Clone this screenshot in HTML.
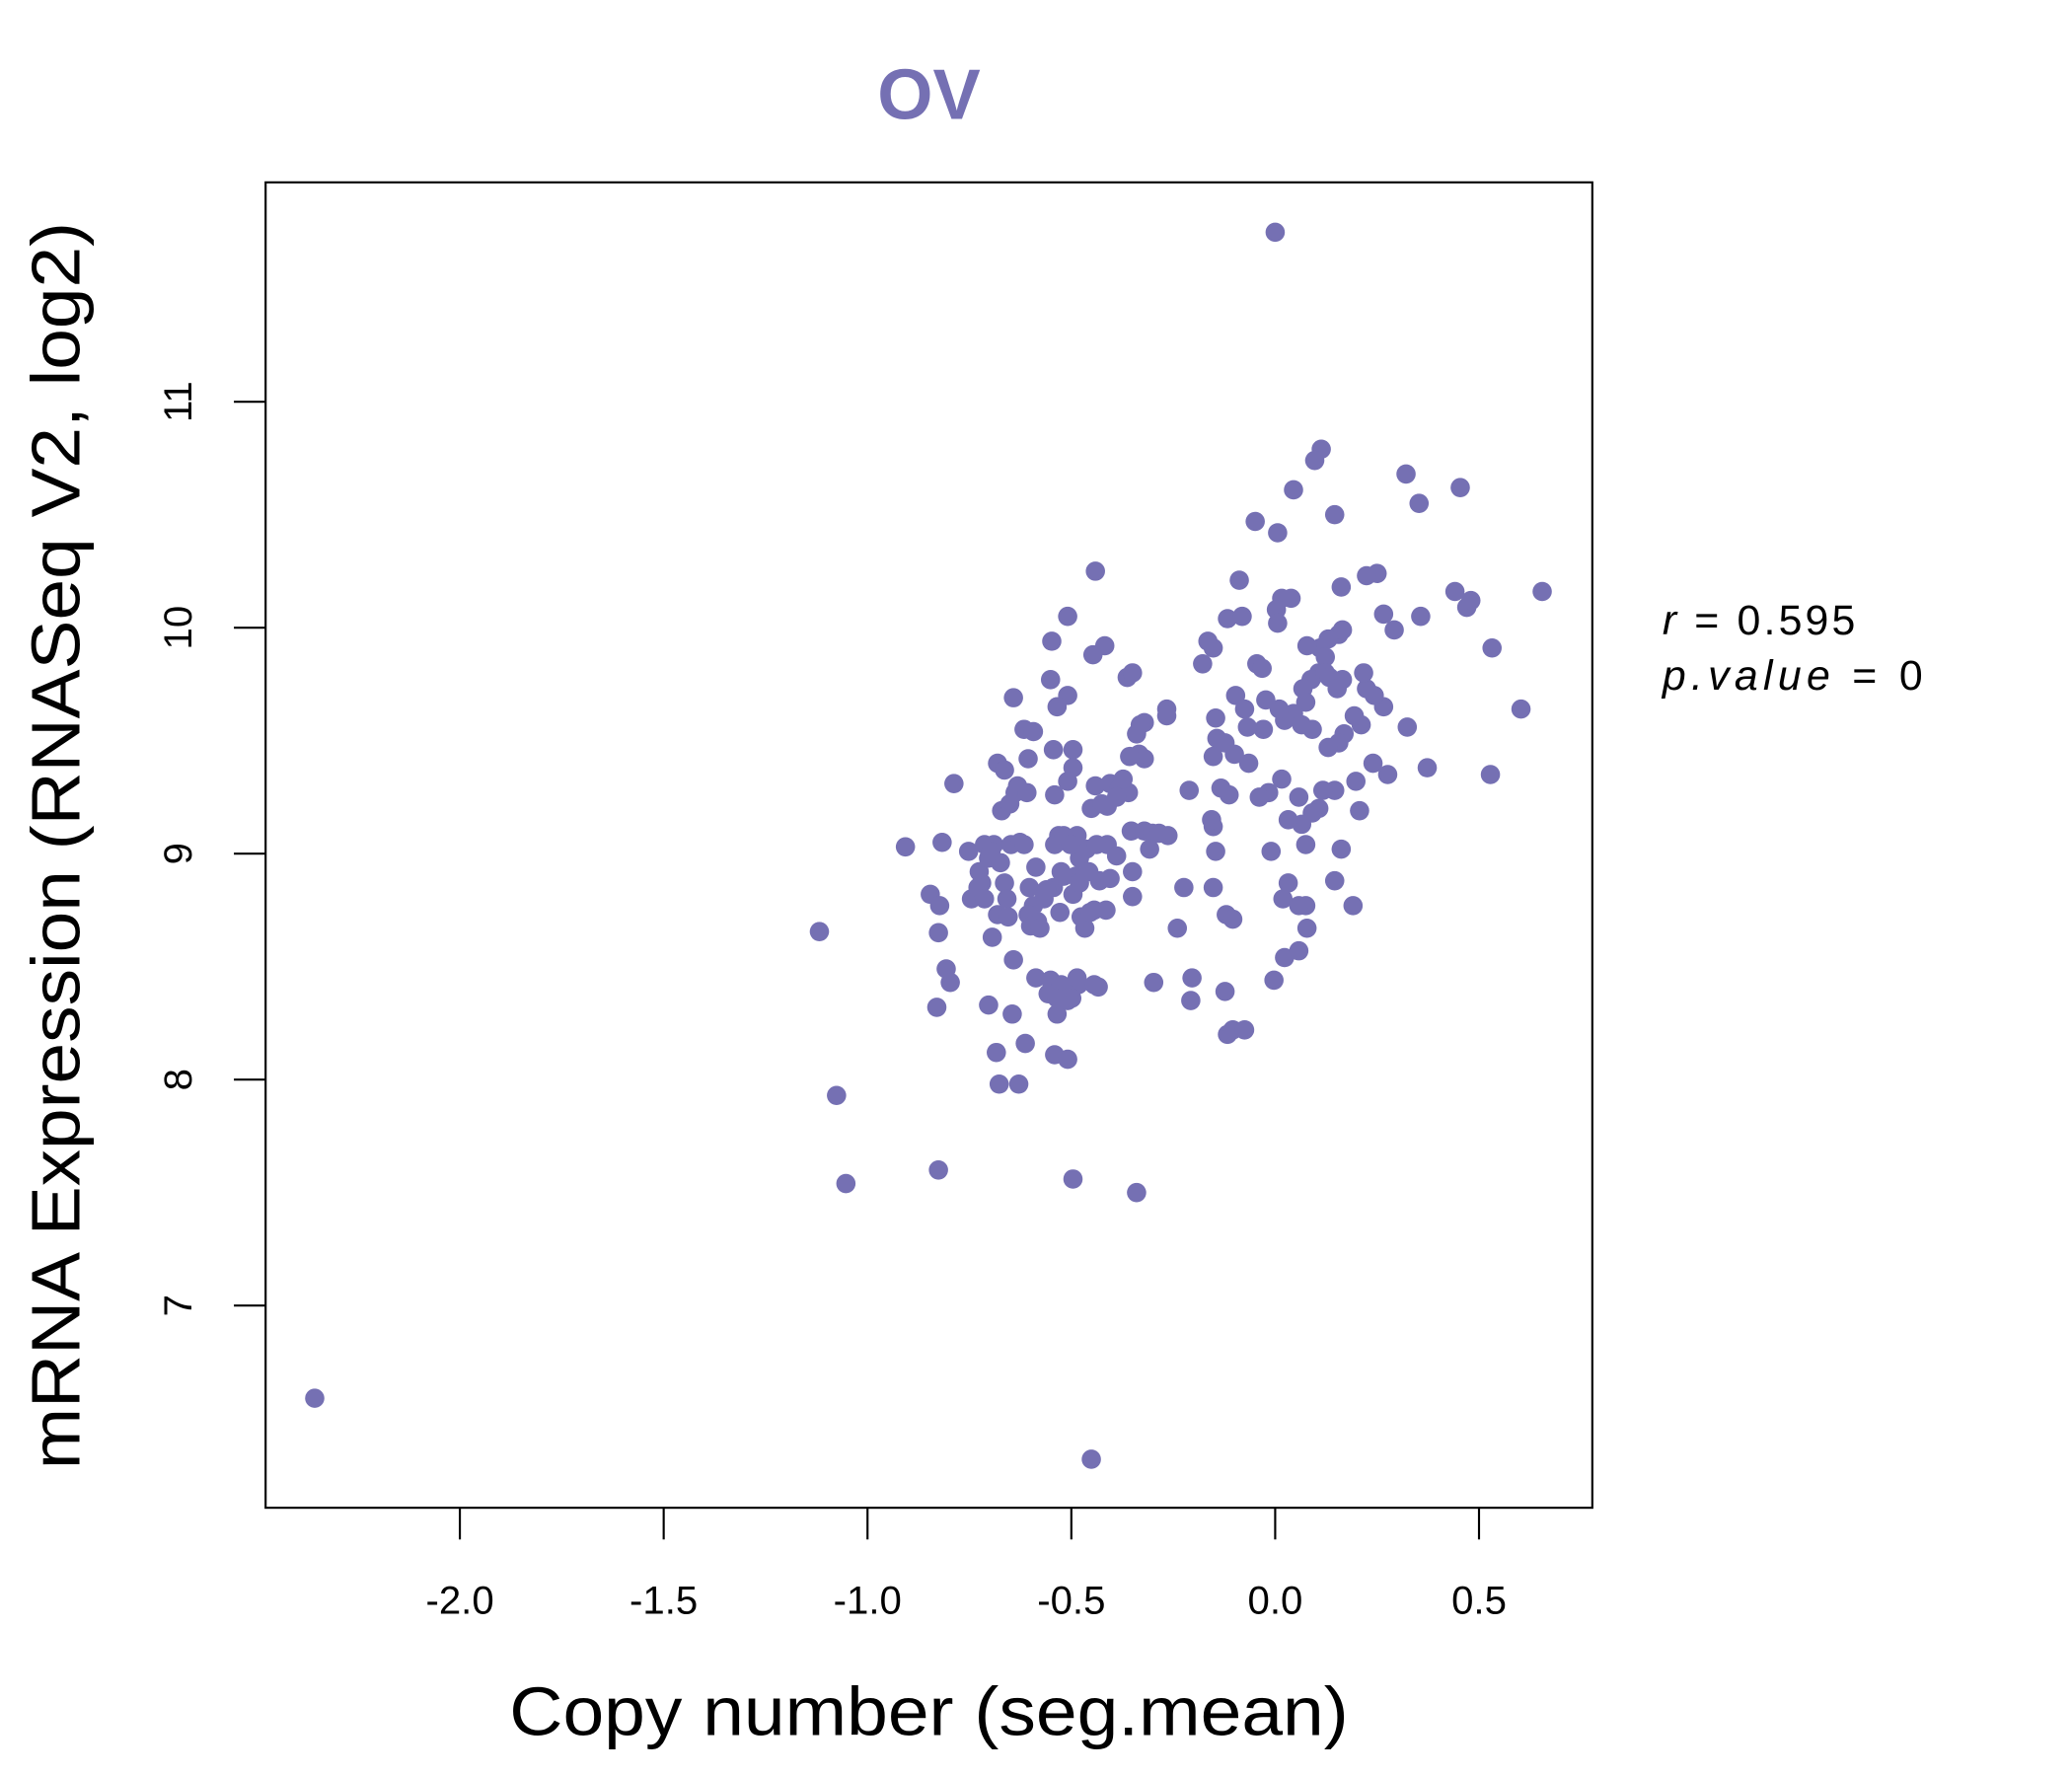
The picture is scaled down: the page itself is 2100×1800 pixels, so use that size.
<!DOCTYPE html>
<html><head><meta charset="utf-8"><style>
html,body{margin:0;padding:0;background:#fff;}
svg{display:block;}
text{font-family:"Liberation Sans",sans-serif;}
</style></head><body>
<svg id="chart" xmlns="http://www.w3.org/2000/svg" width="2100" height="1800" viewBox="0 0 1568 1344">
<rect x="0" y="0" width="1568" height="1344" fill="#fff"/>
<text x="703" y="90" text-anchor="middle" font-size="54" font-weight="bold" fill="#7570B3">OV</text>
<rect x="201" y="138" width="1004" height="1003" fill="none" stroke="#000" stroke-width="1.6"/>
<g id="xaxis"></g>
<g id="yaxis"></g>
<g id="points"></g>
<text x="703" y="1313" text-anchor="middle" font-size="52" textLength="635" lengthAdjust="spacingAndGlyphs">Copy number (seg.mean)</text>
<text transform="translate(60,640) rotate(-90)" text-anchor="middle" font-size="52" textLength="944" lengthAdjust="spacingAndGlyphs">mRNA Expression (RNASeq V2, log2)</text>
<text x="1258" y="480" font-size="32" textLength="146" lengthAdjust="spacing"><tspan font-style="italic">r</tspan> = 0.595</text>
<text x="1258" y="522" font-size="32" textLength="197" lengthAdjust="spacing"><tspan font-style="italic">p.value</tspan> = 0</text>
</svg>
<script>
const xTicks = [-2.0, -1.5, -1.0, -0.5, 0.0, 0.5];
const xTickLabels = ["-2.0", "-1.5", "-1.0", "-0.5", "0.0", "0.5"];
const yTicks = [7, 8, 9, 10, 11];
const yTickLabels = ["7", "8", "9", "10", "11"];
const copyNumber = [-2.356,-0.451,0,-1.118,-1.076,-1.053,-0.826,-0.496,-0.340,-0.907,-0.817,-0.788,-0.846,-0.823,-0.826,-0.807,-0.797,-0.830,-0.703,-0.684,-0.677,-0.629,-0.613,-0.645,-0.642,-0.694,-0.681,-0.745,-0.752,-0.726,-0.720,-0.703,-0.690,-0.674,-0.664,-0.658,-0.648,-0.626,-0.616,-0.671,-0.651,-0.638,-0.632,-0.609,-0.681,-0.664,-0.606,-0.616,-0.593,-0.642,-0.548,-0.509,-0.441,-0.447,-0.418,-0.551,-0.509,-0.535,-0.544,-0.496,-0.496,-0.509,-0.541,-0.531,-0.541,-0.525,-0.544,-0.528,-0.567,-0.593,-0.583,-0.606,-0.587,-0.603,-0.587,-0.551,-0.557,-0.535,-0.509,-0.483,-0.499,-0.444,-0.434,-0.541,-0.509,-0.467,-0.444,-0.415,-0.431,-0.480,-0.489,-0.463,-0.486,-0.451,-0.441,-0.405,-0.412,-0.382,-0.360,-0.373,-0.412,-0.389,-0.350,-0.350,-0.353,-0.321,-0.301,-0.285,-0.263,-0.308,-0.340,-0.321,-0.321,-0.266,-0.266,-0.363,-0.350,-0.211,-0.224,-0.240,-0.204,-0.207,-0.298,-0.178,-0.165,-0.152,-0.117,-0.088,-0.081,-0.045,-0.049,0.006,0.045,0.113,0.097,0.146,0.321,0.353,0.454,0.250,0.224,0.162,0.039,0.016,0.003,0.006,0.266,0.292,0.357,0.441,0.470,0.480,0.655,0.532,0.603,0.528,0.373,0.324,0.266,0.243,0.224,0.211,0.194,0.169,0.156,0.130,0.165,0.156,0.165,0.130,0.110,0.123,0.107,0.088,0.068,0.075,0.045,0.023,0.010,0.091,0.065,-0.023,-0.029,-0.068,-0.097,-0.075,-0.146,-0.143,-0.152,-0.123,-0.100,-0.065,-0.032,0.078,0.217,0.146,0.117,0.107,0.091,0.065,0.032,0.075,0.058,0.016,-0.016,-0.039,0.207,0.198,0.240,0.276,0.162,0.146,0.191,0.075,0.058,0.019,0.032,-0.010,-0.146,-0.152,-0.152,-0.156,-0.113,-0.133,-0.120,-0.104,-0.003,0.023,0.058,0.078,-0.117,-0.104,-0.075,-0.123,0.123,0.133,0.152,-0.713,-0.697,-0.729,-0.713,-0.655,-0.600,-0.577,-0.561,-0.519,-0.496,-0.480,-0.457,-0.476,-0.454,-0.519,-0.502,-0.438,-0.334,-0.331,-0.389,-0.425,-0.357,-0.405,-0.525,-0.535,-0.486];
const expression = [6.59,6.32,11.75,8.655,7.93,7.54,7.60,7.56,7.50,9.03,9.05,9.31,8.82,8.77,8.65,8.49,8.43,8.32,8.33,8.12,7.98,7.98,8.16,8.29,8.53,8.63,8.73,8.80,9.01,8.92,8.87,8.98,9.04,8.96,8.87,8.80,9.04,9.05,9.04,9.19,9.22,9.27,9.30,9.27,9.40,9.37,9.42,9.55,9.54,9.69,9.94,10.05,10.25,9.88,9.92,9.77,9.70,9.65,9.46,9.46,9.38,9.32,9.26,9.08,9.04,8.92,8.85,8.74,8.80,8.77,8.70,8.73,8.94,8.85,8.45,8.44,8.38,8.29,8.35,8.42,8.36,8.42,8.41,8.11,8.09,8.67,8.75,8.75,8.88,8.98,8.90,9.02,9.08,9.20,9.30,9.31,9.21,9.29,9.27,9.33,9.04,8.99,8.92,8.81,9.10,9.10,9.09,9.09,9.08,9.02,9.53,9.58,9.42,9.64,9.61,9.78,9.80,9.28,8.85,8.67,8.45,8.35,8.43,9.84,9.94,9.91,10.04,10.21,10.05,9.84,10.47,10.42,10.61,10.79,10.74,10.50,10.68,10.55,10.62,10.24,10.23,10.18,10.13,10.13,10.08,10.02,10.06,9.99,10.05,10.16,10.09,10.12,10.16,9.91,9.64,9.35,9.38,9.56,9.65,9.70,9.73,9.57,9.61,9.53,9.49,9.47,9.77,9.97,9.99,9.95,9.91,9.87,9.80,9.77,9.73,9.67,9.62,9.59,9.64,9.55,9.57,9.68,9.55,9.56,9.70,9.64,9.60,9.51,9.43,9.49,9.44,9.40,9.82,9.92,9.80,9.28,9.28,9.20,9.18,9.13,9.15,9.04,9.25,9.33,9.27,9.25,9.19,9.32,9.40,9.35,9.02,8.88,8.77,8.77,8.77,8.80,8.87,9.01,9.01,8.85,9.12,9.15,9.26,9.29,8.73,8.71,8.44,8.54,8.57,8.67,8.20,8.22,8.22,8.39,9.80,9.78,9.73,9.04,9.01,8.85,8.80,8.72,8.68,8.67,8.84,8.90,8.82,8.87,8.92,8.72,8.74,9.08,9.04,9.04,9.44,9.57,9.25,9.22,9.43,8.89,8.42,8.36,8.45];

const NS = "http://www.w3.org/2000/svg";
function xScale(v){ return 965 + v * 308.5; }
function yScale(v){ return 646 - (v - 9) * 171; }

const xg = document.getElementById('xaxis');
xTicks.forEach((t, i) => {
  const l = document.createElementNS(NS, 'line');
  l.setAttribute('x1', xScale(t)); l.setAttribute('x2', xScale(t));
  l.setAttribute('y1', 1141); l.setAttribute('y2', 1165);
  l.setAttribute('stroke', '#000'); l.setAttribute('stroke-width', '1.6');
  
  
  xg.appendChild(l);
  const tx = document.createElementNS(NS, 'text');
  tx.setAttribute('x', xScale(t)); tx.setAttribute('y', 1221);
  tx.setAttribute('text-anchor', 'middle'); tx.setAttribute('font-size', '30');
  tx.textContent = xTickLabels[i];
  
  
  xg.appendChild(tx);
});
const yg = document.getElementById('yaxis');
yTicks.forEach((t, i) => {
  const l = document.createElementNS(NS, 'line');
  l.setAttribute('x1', 177); l.setAttribute('x2', 201);
  l.setAttribute('y1', yScale(t)); l.setAttribute('y2', yScale(t));
  l.setAttribute('stroke', '#000'); l.setAttribute('stroke-width', '1.6');
  
  
  yg.appendChild(l);
  const tx = document.createElementNS(NS, 'text');
  tx.setAttribute('transform', 'translate(145,' + yScale(t) + ') rotate(-90)');
  tx.setAttribute('text-anchor', 'middle'); tx.setAttribute('font-size', '30');
  tx.textContent = yTickLabels[i];
  
  
  yg.appendChild(tx);
});
const pg = document.getElementById('points');
copyNumber.forEach((v, i) => {
  const c = document.createElementNS(NS, 'circle');
  c.setAttribute('cx', xScale(v));
  c.setAttribute('cy', yScale(expression[i]));
  c.setAttribute('r', 7.3);
  c.setAttribute('fill', '#7570B3');
  
  
  pg.appendChild(c);
});
</script>
</body></html>
